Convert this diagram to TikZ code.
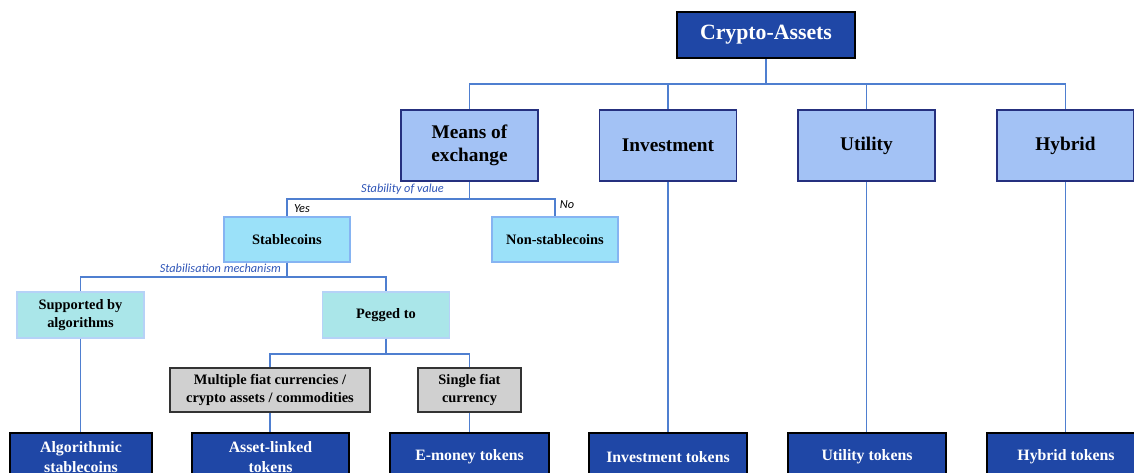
\documentclass[tikz,border=0pt]{standalone}
\usepackage{fontspec}
\setmainfont{Liberation Serif}
\newfontfamily\lblfont{Carlito}
\usetikzlibrary{positioning}
\definecolor{darkfill}{HTML}{1F47A6}
\definecolor{midfill}{HTML}{A3C2F5}
\definecolor{navyline}{HTML}{25307F}
\definecolor{cyanfill}{HTML}{9BE1F9}
\definecolor{tealfill}{HTML}{AAE6E9}
\definecolor{softline}{HTML}{86B4F2}
\definecolor{greyfill}{HTML}{D0D0D0}
\definecolor{linkblue}{HTML}{4F7FD0}
\definecolor{lbltext}{HTML}{2F55B8}
\begin{document}
\begin{tikzpicture}[x=0.02cm,y=-0.02cm,
    topbox/.style={draw=black,line width=1.2pt,fill=darkfill,text=white,font=\bfseries\fontsize{12.4}{14}\selectfont},
    catbox/.style={draw=navyline,line width=1.1pt,fill=midfill,align=center,font=\bfseries\fontsize{11}{13}\selectfont,minimum width=2.74cm,minimum height=1.42cm},
    stabbox/.style={draw=softline,line width=0.8pt,fill=cyanfill,align=center,font=\bfseries\fontsize{8.2}{10}\selectfont,minimum width=2.52cm,minimum height=0.9cm},
    mechbox/.style={draw=softline!60,line width=0.8pt,fill=tealfill,align=center,font=\bfseries\fontsize{8.2}{10}\selectfont,minimum width=2.54cm,minimum height=0.92cm},
    pegbox/.style={draw=black!80,line width=1pt,fill=greyfill,align=center,font=\bfseries\fontsize{8.2}{10}\selectfont,minimum height=0.88cm},
    tokbox/.style={draw=black,line width=1pt,fill=darkfill,text=white,align=center,font=\bfseries\fontsize{9}{11}\selectfont,minimum height=0.96cm},
    link/.style={draw=linkblue,line width=1.1pt},
    branch/.style={text=lbltext,font=\lblfont\itshape\fontsize{7}{8}\selectfont,inner sep=1pt},
    answer/.style={font=\lblfont\itshape\fontsize{7}{8}\selectfont,inner sep=1pt}]
  \clip (0,0) rectangle (1134,473);
  \fill[white] (0,0) rectangle (1134,473);

  % top of the tree
  \node[topbox,minimum width=3.56cm,minimum height=0.92cm] (crypto) at (766,35) {Crypto-Assets};

  \node[catbox] (means) at (469.5,145.5) {Means of\\exchange};
  \node[catbox] (invest) at (668,145.5) {Investment};
  \node[catbox] (util) at (866.5,145.5) {Utility};
  \node[catbox] (hyb) at (1065.5,145.5) {Hybrid};

  % means of exchange branch
  \node[stabbox] (stable) at (287,239.5) {Stablecoins};
  \node[stabbox] (nonstable) at (555,239.5) {Non-stablecoins};

  \node[mechbox] (algo) at (80.5,315) {Supported by\\algorithms};
  \node[mechbox] (pegged) at (386,315) {Pegged to};

  \node[pegbox,minimum width=4cm] (multi) at (270,390) {Multiple fiat currencies /\\crypto assets / commodities};
  \node[pegbox,minimum width=2.06cm] (single) at (469.5,390) {Single fiat\\currency};

  % token boxes
  \node[tokbox,minimum width=2.84cm] (algotok) at (81,457) {Algorithmic\\stablecoins};
  \node[tokbox,minimum width=3.14cm] (assettok) at (270.5,457) {Asset-linked\\tokens};
  \node[tokbox,minimum width=3.18cm] (emoney) at (469.5,457) {E-money tokens};
  \node[tokbox,minimum width=3.16cm] (investtok) at (668,457) {Investment tokens};
  \node[tokbox,minimum width=3.16cm] (utiltok) at (867,457) {Utility tokens};
  \node[tokbox,minimum width=3.16cm] (hybtok) at (1066,457) {Hybrid tokens};

  % connectors
  \foreach \child in {means,invest,util,hyb}
    \draw[link] (crypto.south) -- ++(0,25) -| (\child.north);
  \foreach \child in {stable,nonstable}
    \draw[link] (means.south) -- ++(0,17) -| (\child.north);
  \foreach \child in {algo,pegged}
    \draw[link] (stable.south) -- ++(0,14) -| (\child.north);
  \foreach \child in {multi,single}
    \draw[link] (pegged.south) -- ++(0,15) -| (\child.north);
  \draw[link] (algo.south) -- (algo.south |- algotok.north);
  \draw[link] (multi.south) -- (multi.south |- assettok.north);
  \draw[link] (single.south) -- (single.south |- emoney.north);
  \draw[link] (invest.south) -- (invest.south |- investtok.north);
  \draw[link] (util.south) -- (util.south |- utiltok.north);
  \draw[link] (hyb.south) -- (hyb.south |- hybtok.north);

  % branch labels
  \node[branch,anchor=south east] (valuelbl) at (446,197) {Stability of value};
  \node[answer] (yes) at (302,209) {Yes};
  \node[answer] (no) at (567,205) {No};
  \node[branch,anchor=south east] (mechlbl) at (283,275) {Stabilisation mechanism};
\end{tikzpicture}
\end{document}
